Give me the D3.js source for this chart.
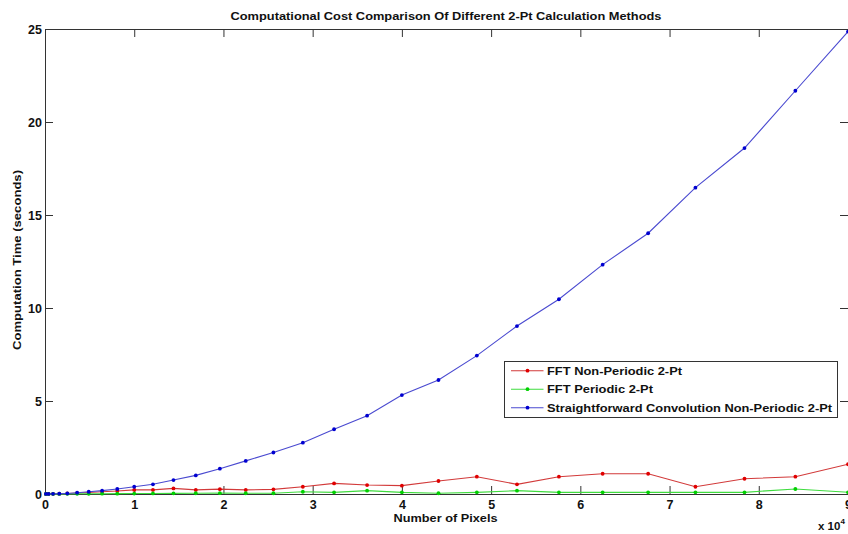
<!DOCTYPE html>
<html>
<head>
<meta charset="utf-8">
<script src="https://cdn.jsdelivr.net/npm/d3@7"></script>
<style>
  html, body { margin: 0; padding: 0; background: #fff; }
  svg { display: block; }
  text { font-family: "Liberation Sans", Arial, Helvetica, sans-serif; font-weight: bold; fill: #111; }
</style>
</head>
<body>
<div id="chart"></div>
<script>
// Image sizes (total pixels) at which each method was timed
const pixelCounts = [100, 400, 900, 1600, 2500, 3600, 4900, 6400, 8100, 10000,
  12100, 14400, 16900, 19600, 22500, 25600, 28900, 32400, 36100, 40000,
  44100, 48400, 52900, 57600, 62500, 67600, 72900, 78400, 84100, 90000];

// Run times in seconds
const fftNonPeriodic = [0.002, 0.005, 0.01, 0.02, 0.03, 0.05, 0.08, 0.12, 0.16, 0.22,
  0.22, 0.30, 0.22, 0.26, 0.22, 0.25, 0.39, 0.57, 0.48, 0.45,
  0.70, 0.93, 0.52, 0.93, 1.09, 1.09, 0.39, 0.82, 0.93, 1.60];
const fftPeriodic = [0.001, 0.002, 0.004, 0.006, 0.008, 0.01, 0.012, 0.015, 0.02, 0.025,
  0.03, 0.035, 0.04, 0.045, 0.04, 0.04, 0.12, 0.09, 0.18, 0.09,
  0.04, 0.09, 0.18, 0.09, 0.09, 0.09, 0.09, 0.09, 0.27, 0.09];
const directConvolution = [0.003, 0.005, 0.01, 0.02, 0.03, 0.07, 0.12, 0.18, 0.27, 0.39,
  0.52, 0.75, 1.0, 1.36, 1.78, 2.23, 2.76, 3.48, 4.21, 5.32,
  6.13, 7.44, 9.03, 10.47, 12.33, 14.02, 16.47, 18.60, 21.68, 24.86];

const seriesNames = ["FFT Non-Periodic 2-Pt", "FFT Periodic 2-Pt", "Straightforward Convolution Non-Periodic 2-Pt"];
const xTickValues = [0, 10000, 20000, 30000, 40000, 50000, 60000, 70000, 80000, 90000];
const xTickLabels = ["0", "1", "2", "3", "4", "5", "6", "7", "8", "9"];
const yTickValues = [0, 5, 10, 15, 20, 25];

const W = 848, H = 534;
const plot = { left: 45, right: 848, top: 29, bottom: 494 };

const series = [
  { name: seriesNames[0], values: fftNonPeriodic, line: "#d23a3a", dot: "#e00000" },
  { name: seriesNames[1], values: fftPeriodic, line: "#3fdc3f", dot: "#00d000" },
  { name: seriesNames[2], values: directConvolution, line: "#4a4ad0", dot: "#0000d0" }
];

const svg = d3.select("#chart").append("svg")
  .attr("width", W).attr("height", H);

const x = d3.scaleLinear().domain([0, 90000]).range([plot.left, plot.right]);
const y = d3.scaleLinear().domain([0, 25]).range([plot.bottom, plot.top]);

const axisColor = "#333";
function styleAxis(g) {
  g.selectAll(".domain").attr("stroke", axisColor).attr("stroke-width", 1);
  g.selectAll(".tick line").attr("stroke", axisColor);
  g.selectAll(".tick text").attr("font-family", null).attr("font-size", 12.5).style("font-weight", "bold");
}

// frame and inward ticks on all four sides
svg.append("g").attr("transform", `translate(0,${plot.bottom})`)
  .call(d3.axisBottom(x).tickValues(xTickValues)
    .tickFormat((d, i) => xTickLabels[i]).tickSize(-8).tickSizeOuter(0).tickPadding(6))
  .call(styleAxis);
svg.append("g").attr("transform", `translate(0,${plot.top})`)
  .call(d3.axisTop(x).tickValues(xTickValues).tickFormat("").tickSize(-8).tickSizeOuter(0))
  .call(styleAxis);
svg.append("g").attr("transform", `translate(${plot.left},0)`)
  .call(d3.axisLeft(y).tickValues(yTickValues).tickSize(-8).tickSizeOuter(0).tickPadding(3))
  .call(styleAxis);
svg.append("g").attr("transform", `translate(${plot.right},0)`)
  .call(d3.axisRight(y).tickValues(yTickValues).tickFormat("").tickSize(-8).tickSizeOuter(0))
  .call(styleAxis);

// data lines with dot markers
const line = d3.line().x((d, i) => x(pixelCounts[i])).y(d => y(d));
series.forEach(s => {
  svg.append("path").datum(s.values)
    .attr("d", line).attr("fill", "none")
    .attr("stroke", s.line).attr("stroke-width", 1.1);
  svg.append("g").selectAll("circle").data(s.values).join("circle")
    .attr("cx", (d, i) => x(pixelCounts[i]))
    .attr("cy", d => y(d))
    .attr("r", 1.9).attr("fill", s.dot);
});

// title and axis labels
svg.append("text").attr("x", 446).attr("y", 19.5).attr("text-anchor", "middle")
  .attr("font-size", 11.8).attr("textLength", 431).attr("lengthAdjust", "spacingAndGlyphs")
  .text("Computational Cost Comparison Of Different 2-Pt Calculation Methods");
svg.append("text").attr("x", 445.5).attr("y", 521.8).attr("text-anchor", "middle")
  .attr("font-size", 11.8).attr("textLength", 104).attr("lengthAdjust", "spacingAndGlyphs")
  .text("Number of Pixels");
svg.append("text").attr("transform", "translate(21,260) rotate(-90)").attr("text-anchor", "middle")
  .attr("font-size", 11.8).attr("textLength", 180).attr("lengthAdjust", "spacingAndGlyphs")
  .text("Computation Time (seconds)");

// exponent for the x axis
const expo = svg.append("text").attr("x", 818).attr("y", 529.5).attr("font-size", 11.5);
expo.append("tspan").text("x 10");
expo.append("tspan").attr("font-size", 8).attr("dy", -6).text("4");

// legend
const lg = svg.append("g");
lg.append("rect").attr("x", 504.5).attr("y", 361.5).attr("width", 333).attr("height", 56)
  .attr("fill", "#fff").attr("stroke", "#333").attr("stroke-width", 1);
series.forEach((s, i) => {
  const cy = 370.7 + i * 18.5;
  lg.append("line").attr("x1", 511).attr("x2", 543.5).attr("y1", cy).attr("y2", cy)
    .attr("stroke", s.line).attr("stroke-width", 1.1);
  lg.append("circle").attr("cx", 527.5).attr("cy", cy).attr("r", 1.9).attr("fill", s.dot);
  const widths = [135, 106, 285];
  lg.append("text").attr("x", 547).attr("y", cy + 4.2).attr("font-size", 11.2)
    .attr("textLength", widths[i]).attr("lengthAdjust", "spacingAndGlyphs")
    .text(s.name);
});
</script>
</body>
</html>
